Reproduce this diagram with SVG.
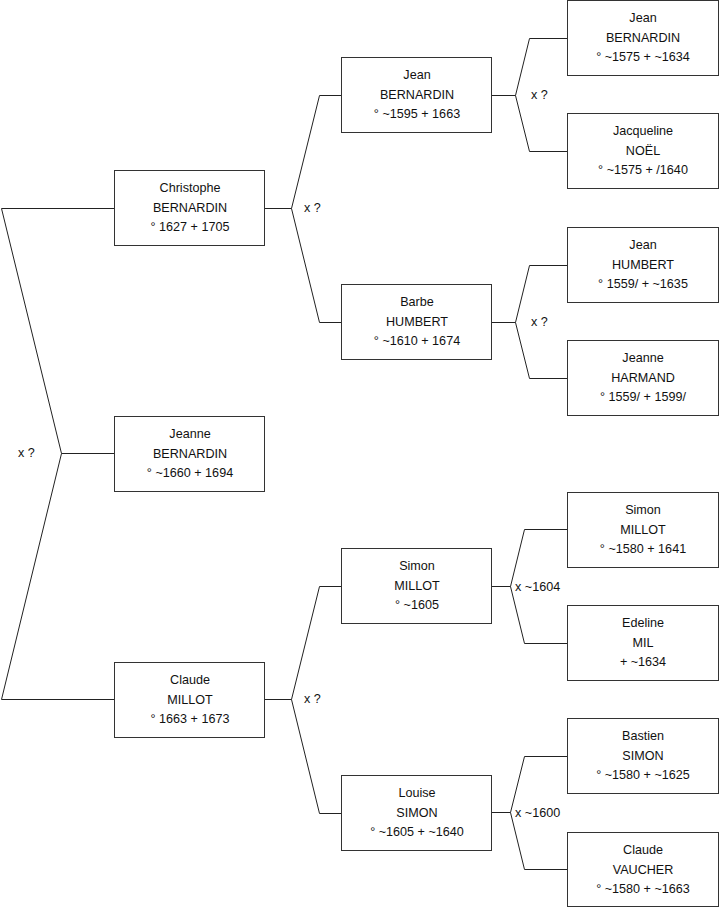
<svg xmlns="http://www.w3.org/2000/svg" width="719" height="908" viewBox="0 0 719 908">
<style>
.box{fill:#fff;stroke:#333;stroke-width:1}
.ln{fill:none;stroke:#222;stroke-width:1}
text{font-family:"Liberation Sans",Arial,sans-serif;font-size:12.6px;fill:#111;text-anchor:middle}
.lbl{text-anchor:start}
</style>
<rect width="719" height="908" fill="#fff"/>
<g id="connectors">
<polyline class="ln" points="114,208.5 1.5,208.5 61.5,453.5 1.5,699.5 114,699.5"/>
<line class="ln" x1="61.5" y1="453.5" x2="114" y2="453.5"/>
<polyline class="ln" points="341,95.5 319.5,95.5 291.5,208.5 319.5,322.5 341,322.5"/>
<line class="ln" x1="265" y1="208.5" x2="291.5" y2="208.5"/>
<polyline class="ln" points="341,586.5 319.5,586.5 291.5,699.5 319.5,813.5 341,813.5"/>
<line class="ln" x1="265" y1="699.5" x2="291.5" y2="699.5"/>
<polyline class="ln" points="567,38.5 529.5,38.5 515.5,95.5 529.5,151.5 567,151.5"/>
<line class="ln" x1="492" y1="95.5" x2="515.5" y2="95.5"/>
<polyline class="ln" points="567,265.5 529.5,265.5 515.5,322.5 529.5,378.5 567,378.5"/>
<line class="ln" x1="492" y1="322.5" x2="515.5" y2="322.5"/>
<polyline class="ln" points="567,529.5 524.5,529.5 510.5,586.5 524.5,643.5 567,643.5"/>
<line class="ln" x1="492" y1="586.5" x2="510.5" y2="586.5"/>
<polyline class="ln" points="567,756.5 524.5,756.5 510.5,812.5 524.5,869.5 567,869.5"/>
<line class="ln" x1="492" y1="812.5" x2="510.5" y2="812.5"/>
<text class="lbl" x="18" y="457">x ?</text>
<text class="lbl" x="304" y="212">x ?</text>
<text class="lbl" x="304" y="703">x ?</text>
<text class="lbl" x="531" y="99">x ?</text>
<text class="lbl" x="531" y="326">x ?</text>
<text class="lbl" x="515" y="591">x ~1604</text>
<text class="lbl" x="515" y="817">x ~1600</text>
</g>
<g id="christophe"><rect class="box" x="114.5" y="170.5" width="150" height="75"/><text x="190" y="192">Christophe</text><text x="190" y="211.5">BERNARDIN</text><text x="190" y="231">° 1627 + 1705</text></g>
<g id="jeanne"><rect class="box" x="114.5" y="416.5" width="150" height="75"/><text x="190" y="438">Jeanne</text><text x="190" y="457.5">BERNARDIN</text><text x="190" y="477">° ~1660 + 1694</text></g>
<g id="claude"><rect class="box" x="114.5" y="662.5" width="150" height="75"/><text x="190" y="684">Claude</text><text x="190" y="703.5">MILLOT</text><text x="190" y="723">° 1663 + 1673</text></g>
<g id="jean-b"><rect class="box" x="341.5" y="57.5" width="150" height="75"/><text x="417" y="79">Jean</text><text x="417" y="98.5">BERNARDIN</text><text x="417" y="118">° ~1595 + 1663</text></g>
<g id="barbe"><rect class="box" x="341.5" y="284.5" width="150" height="75"/><text x="417" y="306">Barbe</text><text x="417" y="325.5">HUMBERT</text><text x="417" y="345">° ~1610 + 1674</text></g>
<g id="simon-m"><rect class="box" x="341.5" y="548.5" width="150" height="75"/><text x="417" y="570">Simon</text><text x="417" y="589.5">MILLOT</text><text x="417" y="609">° ~1605</text></g>
<g id="louise"><rect class="box" x="341.5" y="775.5" width="150" height="75"/><text x="417" y="797">Louise</text><text x="417" y="816.5">SIMON</text><text x="417" y="836">° ~1605 + ~1640</text></g>
<g id="jean-b2"><rect class="box" x="567.5" y="0.5" width="151" height="75"/><text x="643" y="22">Jean</text><text x="643" y="41.5">BERNARDIN</text><text x="643" y="61">° ~1575 + ~1634</text></g>
<g id="jacqueline"><rect class="box" x="567.5" y="113.5" width="151" height="75"/><text x="643" y="135">Jacqueline</text><text x="643" y="154.5">NOËL</text><text x="643" y="174">° ~1575 + /1640</text></g>
<g id="jean-h"><rect class="box" x="567.5" y="227.5" width="151" height="75"/><text x="643" y="249">Jean</text><text x="643" y="268.5">HUMBERT</text><text x="643" y="288">° 1559/ + ~1635</text></g>
<g id="jeanne-h"><rect class="box" x="567.5" y="340.5" width="151" height="75"/><text x="643" y="362">Jeanne</text><text x="643" y="381.5">HARMAND</text><text x="643" y="401">° 1559/ + 1599/</text></g>
<g id="simon-m2"><rect class="box" x="567.5" y="492.5" width="151" height="75"/><text x="643" y="514">Simon</text><text x="643" y="533.5">MILLOT</text><text x="643" y="553">° ~1580 + 1641</text></g>
<g id="edeline"><rect class="box" x="567.5" y="605.5" width="151" height="75"/><text x="643" y="627">Edeline</text><text x="643" y="646.5">MIL</text><text x="643" y="666">+ ~1634</text></g>
<g id="bastien"><rect class="box" x="567.5" y="718.5" width="151" height="75"/><text x="643" y="740">Bastien</text><text x="643" y="759.5">SIMON</text><text x="643" y="779">° ~1580 + ~1625</text></g>
<g id="claude-v"><rect class="box" x="567.5" y="832.5" width="151" height="74"/><text x="643" y="854">Claude</text><text x="643" y="873.5">VAUCHER</text><text x="643" y="893">° ~1580 + ~1663</text></g>
</svg>
